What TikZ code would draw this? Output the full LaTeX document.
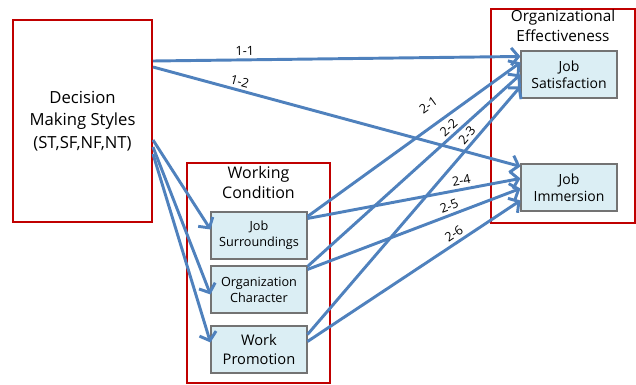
\documentclass[tikz,border=0pt]{standalone}
\usepackage{fontspec}
\setmainfont{Open Sans}
\usetikzlibrary{arrows.meta,calc}
\definecolor{boxred}{RGB}{192,0,0}
\definecolor{linkblue}{RGB}{79,129,189}
\definecolor{cellfill}{RGB}{219,238,244}
\begin{document}
\begin{tikzpicture}[x=0.75pt, y=-0.75pt,
  group/.style = {draw=boxred, line width=1.5pt, align=center},
  title/.style = {align=center, font=\fontsize{12}{15}\selectfont},
  factor/.style = {draw=black!55, fill=cellfill, line width=0.8pt, minimum width=72pt,
    minimum height=35.25pt, align=center, font=\fontsize{9.5}{12}\selectfont},
  link/.style = {draw=linkblue, line width=2.2pt, -{Straight Barb[length=5.5pt,width=13pt]}},
  tag/.style = {sloped, above, font=\fontsize{9.5}{11}\selectfont, inner sep=2pt}
  ]
  \useasboundingbox (0,0) rectangle (636,385);
  % outer boxes
  \node[group, minimum width=104.25pt, minimum height=151.5pt,
    font=\fontsize{12.5}{17}\selectfont] (dms) at (82.5,121) {Decision\\Making Styles\\(ST,SF,NF,NT)};
  \node[group, minimum width=107.25pt, minimum height=165pt] (wc) at (258.5,273) {};
  \node[title] (wctitle) at (258.5,183) {Working\\Condition};
  \node[group, minimum width=108pt, minimum height=160.5pt] (oe) at (563,116) {};
  \node[title, font=\fontsize{11.5}{15}\selectfont] (oetitle) at (563,26) {Organizational\\Effectiveness};
  % inner boxes
  \node[factor] (js) at (259,235.5) {Job\\Surroundings};
  \node[factor] (oc) at (259,289.5) {Organization\\Character};
  \node[factor, font=\fontsize{11}{14}\selectfont] (wp) at (259,349.5) {Work\\Promotion};
  \node[factor, font=\fontsize{10.5}{13}\selectfont] (sat) at (569,74.5) {Job\\Satisfaction};
  \node[factor, font=\fontsize{10.5}{13}\selectfont] (imm) at (569,187.5) {Job\\Immersion};
  % paths
  \draw[link] ($(dms.north east)+(0,42)$) -- node[tag, pos=.25] {1-1} ($(sat.north west)+(0,6)$);
  \draw[link] ($(dms.north east)+(0,48)$) -- node[tag, pos=.23] {1-2} ($(imm.north west)+(0,3)$);
  \draw[link] ($(dms.north east)+(0,121)$) -- ($(js.north west)+(0,18)$);
  \draw[link] ($(dms.north east)+(0,128)$) -- ($(oc.north west)+(0,29)$);
  \draw[link] ($(dms.north east)+(0,135)$) -- ($(wp.north west)+(0,17)$);
  \draw[link] ($(js.north east)+(0,5)$) -- node[tag, pos=.62, above=8pt] {2-1} ($(sat.north west)+(0,12)$);
  \draw[link] ($(oc.north east)+(0,1)$) -- node[tag, pos=.69] {2-2} ($(sat.north west)+(0,24)$);
  \draw[link] ($(wp.north east)+(0,9)$) -- node[tag, pos=.78] {2-3} ($(sat.north west)+(0,36)$);
  \draw[link] ($(js.north east)+(0,7)$) -- node[tag, pos=.73] {2-4} ($(imm.north west)+(0,15)$);
  \draw[link] ($(oc.north east)+(0,4)$) -- node[tag, pos=.68] {2-5} ($(imm.north west)+(0,25)$);
  \draw[link] ($(wp.north east)+(0,16)$) -- node[tag, pos=.71] {2-6} ($(imm.north west)+(0,37)$);
\end{tikzpicture}
\end{document}
